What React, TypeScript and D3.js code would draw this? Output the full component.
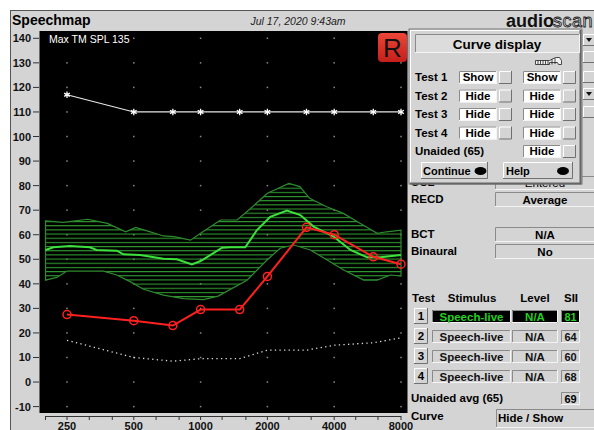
import * as d3 from 'd3';
import React from 'react';

// audiometric frequencies (Hz) and curves in dB SPL
const audioFreqs = [250, 500, 750, 1000, 1500, 2000, 3000, 4000, 6000, 8000];
const maxTmSpl = [117, 110, 110, 110, 110, 110, 110, 110, 110, 110];
const test1Aided = [27.5, 25, 23, 29.5, 29.5, 43, 63, 60, 51, 48];
const thresholdDotted = [17, 10, 8.5, 9.5, 9.5, 13, 13, 15, 16, 18];

// speech banana
const upperFreqs = [200, 240, 310, 380, 460, 510, 560, 680, 760, 900, 1000, 1230, 1460, 1680, 2000, 2500, 2800, 3100, 3700, 4400, 5250, 6250, 6900, 8000];
const upperDb = [65.7, 65, 66.3, 64.6, 61.2, 63, 61.9, 59.5, 59.2, 57.8, 60.6, 66, 66, 70.7, 76.9, 80.9, 79.6, 74.8, 71.4, 68.7, 64.6, 60.6, 61.2, 61.9];
const ltassFreqs = [200, 217, 258, 317, 340, 419, 449, 534, 680, 782, 914, 1000, 1105, 1250, 1360, 1590, 1795, 2060, 2450, 2815, 3230, 3980, 4735, 5630, 6470, 8000];
const ltassDb = [53.8, 54.9, 55.4, 54.9, 53.8, 53.5, 52, 51.7, 50.2, 50, 47.9, 49.3, 51.7, 54.7, 54.9, 54.9, 61.9, 67.3, 69.8, 68, 63.3, 59.2, 53.8, 50.8, 50.8, 51.7];
const lowerFreqs = [200, 225, 250, 365, 419, 481, 553, 680, 837, 1030, 1200, 1618, 1992, 2286, 2626, 3123, 3717, 4414, 5435, 6246, 7175, 8000];
const lowerDb = [41.5, 42.6, 45.2, 45.2, 43.6, 40.9, 37.8, 35.4, 34, 33.6, 35, 41.5, 49.7, 54.5, 55.8, 53.8, 49.7, 45.6, 41.5, 41.5, 43.6, 43.2];

const octaveTicks = [250, 500, 1000, 2000, 4000, 8000];
const thirdOctaveTicks = [200, 250, 315, 400, 500, 630, 800, 1000, 1250, 1600, 2000, 2500, 3150, 4000, 5000, 6300, 8000];
const dbTicks = [-10, 0, 10, 20, 30, 40, 50, 60, 70, 80, 90, 100, 110, 120, 130, 140];

// panel texts
const popupRows = ['Test 1', 'Test 2', 'Test 3', 'Test 4'];
const popupCol1 = ['Show', 'Hide', 'Hide', 'Hide'];
const popupCol2 = ['Show', 'Hide', 'Hide', 'Hide'];
const testNumbers = ['1', '2', '3', '4'];
const stimuli = ['Speech-live', 'Speech-live', 'Speech-live', 'Speech-live'];
const levels = ['N/A', 'N/A', 'N/A', 'N/A'];
const siiValues = [81, 64, 60, 68];
const unaidedSii = 69;

const W = 594;
const H = 430;
const FONT = 'Liberation Sans, Arial, sans-serif';
const GRAY = '#d4d4d4';

const x = d3.scaleLog().domain([250, 8000]).range([67, 401]);
const y = d3.scaleLinear().domain([-10, 140]).range([406.6, 38.3]);

type P = [number, number];
const zip = (f: number[], v: number[]): P[] => f.map((d, i) => [d, v[i]]);
const line = d3
  .line<P>()
  .x((d) => x(d[0]))
  .y((d) => y(d[1]));

const Bevel: React.FC<{ x: number; y: number; w: number; h: number; fill?: string; raised?: boolean }> = ({
  x: bx,
  y: by,
  w,
  h,
  fill = GRAY,
  raised = false,
}) => {
  const lt = raised ? '#ffffff' : '#8a8a8a';
  const rb = raised ? '#707070' : '#f4f4f4';
  return (
    <g>
      <rect x={bx} y={by} width={w} height={h} fill={fill} />
      <path d={`M${bx + 0.5},${by + h}V${by + 0.5}H${bx + w}`} stroke={lt} fill="none" />
      <path d={`M${bx + w - 0.5},${by}V${by + h - 0.5}H${bx}`} stroke={rb} fill="none" />
    </g>
  );
};

const App: React.FC = () => {
  const band = line([...zip(upperFreqs, upperDb), ...zip(lowerFreqs, lowerDb).reverse()]) + 'Z';
  const sym = d3.symbol().type(d3.symbolAsterisk).size(30)();
  const tRow = (i: number) => 81 + i * 18.5;
  const tblRow = (i: number) => 310 + i * 20;

  return (
    <svg width={W} height={H} style={{ position: 'absolute', left: 0, top: 0 }} fontFamily={FONT}>
      <defs>
        <pattern id="hatch" patternUnits="userSpaceOnUse" width="8" height="4.17">
          <rect x="0" y="0" width="8" height="1.1" fill="#2f9a2f" />
        </pattern>
        <linearGradient id="rbox" x1="0" y1="0" x2="0" y2="1">
          <stop offset="0" stopColor="#ec4638" />
          <stop offset="1" stopColor="#c41f1a" />
        </linearGradient>
      </defs>
      <rect width={W} height={H} fill="#fff" />
      <rect x={10.5} y={10.5} width={W} height={H} fill={GRAY} stroke="#555" />

      {/* title bar */}
      <text x={12} y={25} fontSize={14} fontWeight="bold">Speechmap</text>
      <text x={298} y={25} fontSize={10.5} fontStyle="italic" textAnchor="middle" fill="#222">
        Jul 17, 2020 9:43am
      </text>
      <text x={506} y={27} fontSize={18} fontWeight="bold" fill="#111">audio</text>
      <text x={553} y={27} fontSize={18} fill="#fff" stroke="#222" strokeWidth={0.9} letterSpacing={0.5}>scan</text>

      {/* plot */}
      <rect x={39.5} y={31} width={368} height={382} fill="#000" />
      {dbTicks.map((v) => (
        <g key={v}>
          <line x1={33} x2={39} y1={y(v)} y2={y(v)} stroke="#333" />
          <text x={31} y={y(v) + 4} fontSize={11} fontWeight="bold" textAnchor="end" fill="#111">
            {v}
          </text>
          {octaveTicks.map((f) => (
            <rect key={f} x={x(f) - 0.75} y={y(v) - 0.75} width={1.5} height={1.5} fill="#8a8a8a" />
          ))}
        </g>
      ))}
      <line x1={45} x2={401} y1={416.5} y2={416.5} stroke="#333" />
      {thirdOctaveTicks.map((f) => (
        <line key={f} x1={x(f)} x2={x(f)} y1={416} y2={420} stroke="#333" />
      ))}
      {octaveTicks.map((f) => (
        <text key={f} x={x(f)} y={429.5} fontSize={11} fontWeight="bold" textAnchor="middle" fill="#111">
          {f}
        </text>
      ))}

      <text x={49} y={42.5} fontSize={10.5} fill="#fff">Max TM SPL 135</text>
      <rect x={378} y={33} width={29} height={29} rx={4} fill="url(#rbox)" />
      <text x={392.5} y={57} fontSize={26} textAnchor="middle" fill="#111">R</text>

      {/* speech banana */}
      <path d={band} fill="url(#hatch)" stroke="#2e8a2e" strokeWidth={1.2} />
      <path d={line(zip(ltassFreqs, ltassDb)) || ''} fill="none" stroke="#3ee03e" strokeWidth={2} />

      {/* max TM SPL */}
      <path d={line(zip(audioFreqs, maxTmSpl)) || ''} fill="none" stroke="#e8e8e8" strokeWidth={1.2} />
      {audioFreqs.map((f, i) => (
        <path key={f} d={sym || ''} transform={`translate(${x(f)},${y(maxTmSpl[i])})`} stroke="#fff" strokeWidth={1.3} fill="none" />
      ))}

      {/* dotted threshold */}
      <path d={line(zip(audioFreqs, thresholdDotted)) || ''} fill="none" stroke="#ddd" strokeWidth={1.3} strokeDasharray="1.3 3.3" />

      {/* test 1 */}
      <path d={line(zip(audioFreqs, test1Aided)) || ''} fill="none" stroke="#ff2020" strokeWidth={2} />
      {audioFreqs.map((f, i) => (
        <circle key={f} cx={x(f)} cy={y(test1Aided[i])} r={4} fill="none" stroke="#ff2020" strokeWidth={1.5} />
      ))}

      {/* right panel behind popup */}
      {[
        [34, true],
        [51, false],
        [71, false],
        [88, true],
        [106, false],
      ].map(([by, arrow]) => (
        <g key={by as number}>
          <Bevel x={583} y={by as number} w={12} h={12} raised />
          {arrow && <path d={`M586,${(by as number) + 4}h6l-3,4z`} fill="#111" />}
        </g>
      ))}
      <text x={411} y={186} fontSize={11.5} fontWeight="bold">UCL</text>
      <Bevel x={495} y={176} w={100} h={14} />
      <text x={545} y={187} fontSize={11.5} textAnchor="middle">Entered</text>

      <text x={411} y={203} fontSize={11.5} fontWeight="bold">RECD</text>
      <Bevel x={495} y={192} w={100} h={15} />
      <text x={545} y={204} fontSize={11.5} fontWeight="bold" textAnchor="middle">Average</text>

      <text x={411} y={238} fontSize={11.5} fontWeight="bold">BCT</text>
      <Bevel x={495} y={227} w={100} h={15} />
      <text x={545} y={239} fontSize={11.5} fontWeight="bold" textAnchor="middle">N/A</text>
      <text x={411} y={255} fontSize={11.5} fontWeight="bold">Binaural</text>
      <Bevel x={495} y={244} w={100} h={15} />
      <text x={545} y={256} fontSize={11.5} fontWeight="bold" textAnchor="middle">No</text>

      {/* test table */}
      <text x={412} y={302} fontSize={11.5} fontWeight="bold">Test</text>
      <text x={472} y={302} fontSize={11.5} fontWeight="bold" textAnchor="middle">Stimulus</text>
      <text x={535} y={302} fontSize={11.5} fontWeight="bold" textAnchor="middle">Level</text>
      <text x={571} y={302} fontSize={11.5} fontWeight="bold" textAnchor="middle">SII</text>
      {testNumbers.map((n, i) => {
        const ry = tblRow(i);
        const active = i === 0;
        const fg = active ? '#22d022' : '#111';
        const bg = active ? '#000' : GRAY;
        return (
          <g key={n}>
            <Bevel x={414} y={ry - 2} w={14} h={16} raised />
            <text x={421} y={ry + 10} fontSize={11.5} fontWeight="bold" textAnchor="middle">{n}</text>
            <Bevel x={432} y={ry} w={79} h={13} fill={bg} />
            <text x={471.5} y={ry + 10.5} fontSize={11.5} fontWeight="bold" textAnchor="middle" fill={fg}>{stimuli[i]}</text>
            <Bevel x={512} y={ry} w={46} h={13} fill={bg} />
            <text x={535} y={ry + 10.5} fontSize={11.5} fontWeight="bold" textAnchor="middle" fill={fg}>{levels[i]}</text>
            <Bevel x={561} y={ry} w={19} h={13} fill={bg} />
            <text x={570.5} y={ry + 10.5} fontSize={11} fontWeight="bold" textAnchor="middle" fill={fg}>{siiValues[i]}</text>
          </g>
        );
      })}
      <text x={411} y={402} fontSize={11.5} fontWeight="bold">Unaided avg (65)</text>
      <Bevel x={561} y={392} w={19} h={13} />
      <text x={570.5} y={402.5} fontSize={11} fontWeight="bold" textAnchor="middle">{unaidedSii}</text>
      <text x={411} y={420} fontSize={11.5} fontWeight="bold">Curve</text>
      <Bevel x={496} y={409} w={99} h={19} />
      <text x={498} y={422} fontSize={11.5} fontWeight="bold">Hide / Show</text>

      {/* curve display popup */}
      <rect x={409} y={29} width={173} height={155} fill={GRAY} stroke="#777" />
      <path d="M410.5,183V30.5H581" stroke="#fff" fill="none" />
      <path d="M580.5,30V183.5H410" stroke="#666" strokeWidth={2} fill="none" />
      <Bevel x={415} y={34} w={165} h={19} fill="#dcdcdc" />
      <text x={497} y={48.5} fontSize={13.5} fontWeight="bold" textAnchor="middle">Curve display</text>
      <g transform="translate(535,57)" stroke="#222" fill="#f2f2f2" strokeWidth={0.8}>
        <path d="M0.5,3.5h14l6,-3h4l2,3v4h-3l-1,-2h-8v2h-14z" />
        <path d="M3,3.5v4M5.5,3.5v4M8,3.5v4M10.5,3.5v4M13,3.5v4M17,2v5.5M20,1v6" fill="none" />
      </g>
      {popupRows.map((r, i) => {
        const by = tRow(i);
        return (
          <g key={r}>
            <text x={415} y={by} fontSize={11.5} fontWeight="bold">{r}</text>
            <Bevel x={459} y={by - 10} w={38} h={13} fill="#fff" />
            <text x={478} y={by} fontSize={11.5} fontWeight="bold" textAnchor="middle">{popupCol1[i]}</text>
            <Bevel x={499} y={by - 10} w={13} h={13} raised />
            <Bevel x={523} y={by - 10} w={38} h={13} fill="#fff" />
            <text x={542} y={by} fontSize={11.5} fontWeight="bold" textAnchor="middle">{popupCol2[i]}</text>
            <Bevel x={563} y={by - 10} w={13} h={13} raised />
          </g>
        );
      })}
      <text x={415} y={155} fontSize={11.5} fontWeight="bold">Unaided (65)</text>
      <Bevel x={523} y={145} w={38} h={13} fill="#fff" />
      <text x={542} y={155} fontSize={11.5} fontWeight="bold" textAnchor="middle">Hide</text>
      <Bevel x={563} y={145} w={13} h={13} raised />

      <Bevel x={421} y={162} w={67} h={17} raised />
      <text x={423} y={175} fontSize={11} fontWeight="bold">Continue</text>
      <ellipse cx={480.5} cy={171} rx={6} ry={4} fill="#000" />
      <Bevel x={503} y={162} w={70} h={17} raised />
      <text x={506} y={175} fontSize={11} fontWeight="bold">Help</text>
      <ellipse cx={563} cy={171} rx={6} ry={4} fill="#000" />
    </svg>
  );
};

export default App;
